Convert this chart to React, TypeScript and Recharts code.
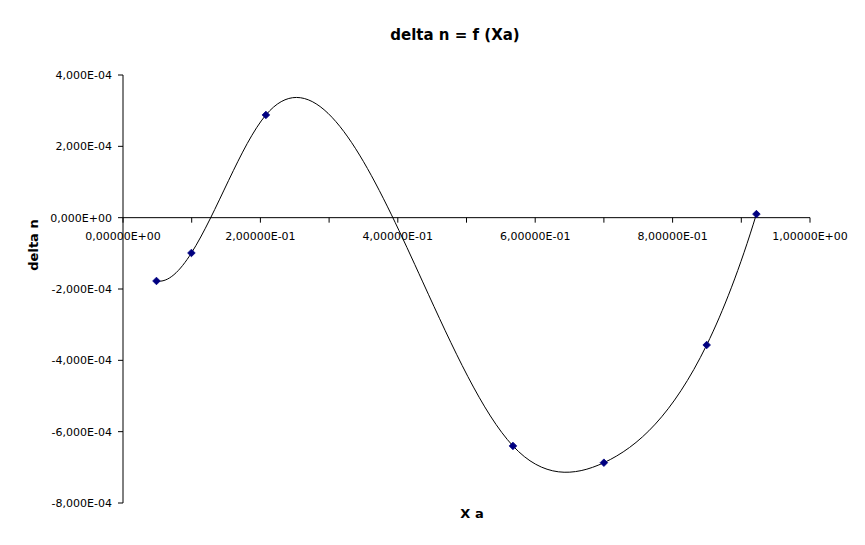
import { LineChart, Line, XAxis, YAxis, ReferenceLine } from 'recharts'

// values
const xa = [0.0487, 0.0996, 0.208, 0.5676, 0.7, 0.8496, 0.922]
const deltaN = [-1.775e-4, -0.99e-4, 2.88e-4, -6.4e-4, -6.87e-4, -3.57e-4, 0.1e-4]
const xTicks = [0, 0.1, 0.2, 0.3, 0.4, 0.5, 0.6, 0.7, 0.8, 0.9, 1]
const xLabelTicks = [0, 0.2, 0.4, 0.6, 0.8, 1]
const yTicks = [-8e-4, -6e-4, -4e-4, -2e-4, 0, 2e-4, 4e-4]

const W = 849
const H = 529
const margin = { top: 67, right: 47, bottom: 33, left: 0 }
const X_AXIS_H = 1
const Y_AXIS_W = 115
const Y_MIN = -8e-4
const Y_MAX = 4e-4
const PLOT_H = H - margin.top - margin.bottom - X_AXIS_H
// pixel row of y = 0, where the x axis crosses
const AXIS_Y = margin.top + (PLOT_H * Y_MAX) / (Y_MAX - Y_MIN)
const FONT = '"DejaVu Sans", Verdana, sans-serif'

const data = xa.map((x, i) => ({ x, dn: deltaN[i] }))

// 4.000e-4 -> 4,000E-04
function sci(v: number, digits: number) {
  const [m, e] = v.toExponential(digits).split('e')
  const n = parseInt(e, 10)
  return m.replace('.', ',') + 'E' + (n < 0 ? '-' : '+') + String(Math.abs(n)).padStart(2, '0')
}

// small dense solver, fine for a handful of points
function solve(A: number[][], b: number[]) {
  const n = b.length
  for (let c = 0; c < n; c++) {
    let p = c
    for (let r = c + 1; r < n; r++) if (Math.abs(A[r][c]) > Math.abs(A[p][c])) p = r
    ;[A[c], A[p]] = [A[p], A[c]]
    ;[b[c], b[p]] = [b[p], b[c]]
    for (let r = c + 1; r < n; r++) {
      const f = A[r][c] / A[c][c]
      for (let k = c; k < n; k++) A[r][k] -= f * A[c][k]
      b[r] -= f * b[c]
    }
  }
  const out = new Array(n).fill(0)
  for (let r = n - 1; r >= 0; r--) {
    let sum = b[r]
    for (let k = r + 1; k < n; k++) sum -= A[r][k] * out[k]
    out[r] = sum / A[r][r]
  }
  return out
}

// cubic spline of y over x (not-a-knot ends), drawn as bezier pieces
function splineYofX(context: any) {
  let xs: number[] = []
  let ys: number[] = []
  return {
    areaStart() {},
    areaEnd() {},
    lineStart() {
      xs = []
      ys = []
    },
    point(x: number, y: number) {
      xs.push(+x)
      ys.push(+y)
    },
    lineEnd() {
      const n = xs.length
      if (!n) return
      context.moveTo(xs[0], ys[0])
      if (n < 4) {
        for (let i = 1; i < n; i++) context.lineTo(xs[i], ys[i])
        return
      }
      const h: number[] = []
      const s: number[] = []
      for (let i = 0; i < n - 1; i++) {
        h[i] = xs[i + 1] - xs[i]
        s[i] = (ys[i + 1] - ys[i]) / h[i]
      }
      const A = Array.from({ length: n }, () => new Array(n).fill(0))
      const b = new Array(n).fill(0)
      A[0][0] = h[1]
      A[0][1] = -(h[0] + h[1])
      A[0][2] = h[0]
      for (let i = 1; i < n - 1; i++) {
        A[i][i - 1] = h[i - 1]
        A[i][i] = 2 * (h[i - 1] + h[i])
        A[i][i + 1] = h[i]
        b[i] = 6 * (s[i] - s[i - 1])
      }
      A[n - 1][n - 3] = h[n - 2]
      A[n - 1][n - 2] = -(h[n - 3] + h[n - 2])
      A[n - 1][n - 1] = h[n - 3]
      const M = solve(A, b)
      for (let i = 0; i < n - 1; i++) {
        const d0 = s[i] - (h[i] * (2 * M[i] + M[i + 1])) / 6
        const d1 = s[i] + (h[i] * (M[i] + 2 * M[i + 1])) / 6
        context.bezierCurveTo(
          xs[i] + h[i] / 3,
          ys[i] + (d0 * h[i]) / 3,
          xs[i + 1] - h[i] / 3,
          ys[i + 1] - (d1 * h[i]) / 3,
          xs[i + 1],
          ys[i + 1]
        )
      }
    },
  }
}

function XTick(props: any) {
  const { x, payload } = props
  const showLabel = xLabelTicks.some((t) => Math.abs(t - payload.value) < 1e-9)
  return (
    <g>
      <line x1={x} x2={x} y1={AXIS_Y} y2={AXIS_Y + 5} stroke="#000" />
      {showLabel && (
        <text x={x} y={AXIS_Y + 22} textAnchor="middle" fontSize={11} fontFamily={FONT} fill="#000">
          {sci(payload.value, 5)}
        </text>
      )}
    </g>
  )
}

function Diamond(props: any) {
  const { cx, cy } = props
  const r = 3.8
  return (
    <path
      d={`M${cx},${cy - r}L${cx + r},${cy}L${cx},${cy + r}L${cx - r},${cy}Z`}
      fill="#000080"
      stroke="#000080"
      strokeWidth={0.8}
    />
  )
}

export default function App() {
  return (
    <div style={{ position: 'relative', width: W, height: H, background: '#fff' }}>
      <LineChart width={W} height={H} data={data} margin={margin}>
        <XAxis
          dataKey="x"
          type="number"
          domain={[0, 1]}
          ticks={xTicks}
          interval={0}
          height={X_AXIS_H}
          axisLine={false}
          tickLine={false}
          tick={<XTick />}
        />
        <YAxis
          type="number"
          domain={[Y_MIN, Y_MAX]}
          ticks={yTicks}
          interval={0}
          width={Y_AXIS_W}
          tickFormatter={(v: number) => sci(v, 3)}
          axisLine={{ stroke: '#000' }}
          tickLine={{ stroke: '#000' }}
          tickSize={5}
          tickMargin={6}
          tick={{ fontSize: 11, fontFamily: FONT, fill: '#000' }}
        />
        <ReferenceLine y={0} stroke="#000" strokeWidth={1} />
        <Line
          dataKey="dn"
          type={splineYofX as any}
          stroke="#000"
          strokeWidth={1}
          dot={<Diamond />}
          activeDot={false}
          isAnimationActive={false}
        />
      </LineChart>
      <svg
        width={W}
        height={H}
        style={{ position: 'absolute', left: 0, top: 0, pointerEvents: 'none' }}
      >
        <text x={447} y={32} textAnchor="middle" fontSize={15} fontWeight="bold" fontFamily={FONT} fill="#000">
          delta n = f (Xa)
        </text>
        <text x={464} y={510} textAnchor="middle" fontSize={13} fontWeight="bold" fontFamily={FONT} fill="#000">
          X a
        </text>
        <text
          x={30}
          y={237}
          textAnchor="middle"
          fontSize={13}
          fontWeight="bold"
          fontFamily={FONT}
          fill="#000"
          transform="rotate(-90 30 237)"
        >
          delta n
        </text>
      </svg>
    </div>
  )
}
